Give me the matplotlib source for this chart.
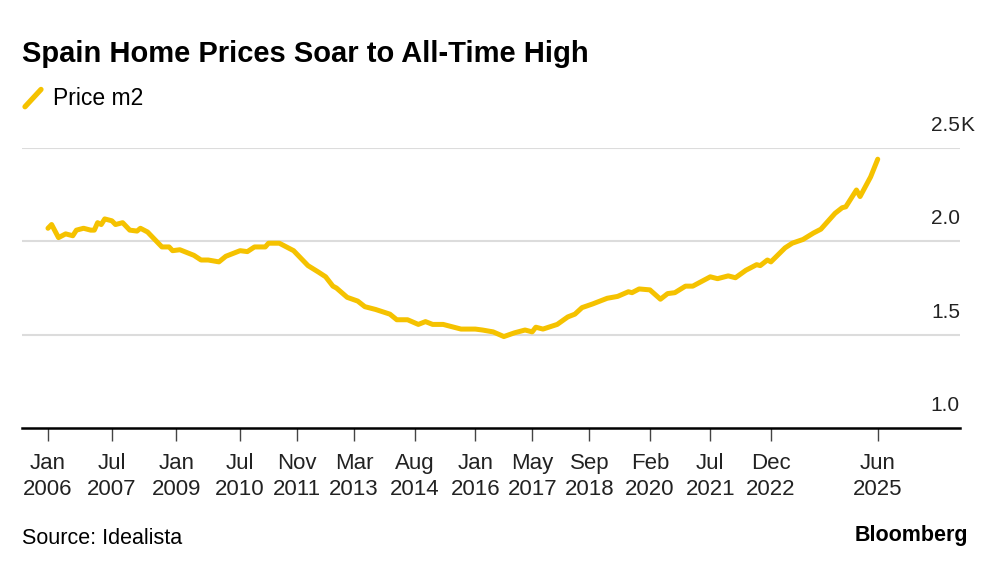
import pandas as pd
import matplotlib
matplotlib.use('Agg')
import matplotlib.pyplot as plt
from matplotlib.lines import Line2D

# price per m2 (euros)
months = ['2006-01', '2006-02', '2006-04', '2006-06', '2006-08', '2006-09', '2006-11',
	'2007-01', '2007-02', '2007-03', '2007-04', '2007-05', '2007-07', '2007-08', '2007-10', '2007-12',
	'2008-02', '2008-03', '2008-05', '2008-08', '2008-09', '2008-11', '2008-12',
	'2009-02', '2009-06', '2009-08', '2009-10',
	'2010-01', '2010-03', '2010-05', '2010-07', '2010-09', '2010-11',
	'2011-02', '2011-03', '2011-06', '2011-08', '2011-10',
	'2012-02', '2012-05', '2012-07', '2012-09', '2012-10',
	'2013-01', '2013-04', '2013-06', '2013-09',
	'2014-01', '2014-03', '2014-06', '2014-09', '2014-11',
	'2015-01', '2015-04', '2015-06', '2015-09',
	'2016-01', '2016-03', '2016-06', '2016-09', '2016-12',
	'2017-03', '2017-05', '2017-06', '2017-08', '2017-12',
	'2018-03', '2018-05', '2018-07', '2018-10',
	'2019-02', '2019-05', '2019-08', '2019-09', '2019-11',
	'2020-02', '2020-05', '2020-07', '2020-09', '2020-12',
	'2021-02', '2021-07', '2021-09', '2021-12',
	'2022-02', '2022-05', '2022-08', '2022-09', '2022-11', '2022-12',
	'2023-04', '2023-06', '2023-09', '2023-12',
	'2024-02', '2024-06', '2024-08', '2024-09', '2024-12',
	'2025-01', '2025-04', '2025-06']
price = [2070, 2090, 2020, 2040, 2030, 2060, 2070,
	2060, 2060, 2100, 2090, 2120, 2110, 2090, 2100, 2060,
	2055, 2070, 2050, 1990, 1970, 1970, 1950,
	1955, 1925, 1900, 1900,
	1890, 1920, 1935, 1950, 1945, 1970,
	1970, 1990, 1990, 1970, 1950,
	1870, 1835, 1810, 1760, 1750,
	1700, 1680, 1650, 1635,
	1610, 1580, 1580, 1555, 1570,
	1555, 1555, 1545, 1530,
	1530, 1525, 1515, 1490, 1510,
	1525, 1515, 1540, 1530, 1555,
	1595, 1610, 1645, 1665,
	1695, 1705, 1730, 1725, 1745,
	1740, 1690, 1720, 1725, 1760,
	1760, 1810, 1800, 1815,
	1805, 1845, 1875, 1870, 1900, 1890,
	1965, 1990, 2010, 2045,
	2065, 2150, 2180, 2185, 2275,
	2240, 2345, 2440]

tick_months = ['2006-01', '2007-07', '2009-01', '2010-07', '2011-11', '2013-03', '2014-08',
	'2016-01', '2017-05', '2018-09', '2020-02', '2021-07', '2022-12', '2025-06']
tick_labels = ['Jan\n2006', 'Jul\n2007', 'Jan\n2009', 'Jul\n2010', 'Nov\n2011', 'Mar\n2013', 'Aug\n2014',
	'Jan\n2016', 'May\n2017', 'Sep\n2018', 'Feb\n2020', 'Jul\n2021', 'Dec\n2022', 'Jun\n2025']
y_ticks = [1000, 1500, 2000, 2500]
y_labels = ['1.0', '1.5', '2.0', '2.5']

YELLOW = '#f5c200'
FONT = 'Liberation Sans'


def main():
	plt.rcParams['font.family'] = [FONT, 'DejaVu Sans']
	fig = plt.figure(figsize=(10, 5.77), dpi=100)
	ax = fig.add_axes([0.022, 0.2582, 0.938, 0.4853])

	xs = pd.to_datetime(months)
	ax.plot(xs, price, color=YELLOW, lw=3.6, solid_joinstyle='round', solid_capstyle='round', clip_on=False, zorder=3)

	ax.set_ylim(1000, 2500)
	ax.set_xlim(pd.Timestamp('2005-05-24'), pd.Timestamp('2027-05-05'))

	# gridlines + labels sitting on top of them
	for v, lab in zip(y_ticks, y_labels):
		if v > 1000:
			ax.axhline(v, color='#dcdcdc', lw=1.5, zorder=1)
		ax.text(1.0, v + 70, lab, transform=ax.get_yaxis_transform(), ha='right', va='bottom',
			fontsize=15, color='#222222')
	ax.text(1.0, 2570, 'K', transform=ax.get_yaxis_transform(), ha='left', va='bottom',
		fontsize=15, color='#222222')

	for s in ['top', 'right', 'left']:
		ax.spines[s].set_visible(False)
	ax.spines['bottom'].set_color('black')
	ax.spines['bottom'].set_linewidth(1.8)
	ax.set_yticks([])

	ax.set_xticks(pd.to_datetime(tick_months))
	ax.set_xticklabels(tick_labels, fontsize=16, color='#222222', linespacing=1.3)
	ax.tick_params(axis='x', length=9, width=1, color='#444444', pad=9)

	fig.text(0.022, 0.8925, 'Spain Home Prices Soar to All-Time High', fontsize=21, fontweight='bold', va='baseline')
	fig.add_artist(Line2D([0.025, 0.041], [0.815, 0.845], color=YELLOW, lw=3.8, solid_capstyle='round'))
	fig.text(0.053, 0.83, 'Price m2', fontsize=16.5, va='center')
	fig.text(0.022, 0.057, 'Source: Idealista', fontsize=15.5, va='baseline')
	fig.text(0.968, 0.062, 'Bloomberg', fontsize=15.5, fontweight='bold', ha='right', va='baseline')

	fig.savefig('out.png', dpi=100, facecolor='white')

if __name__ == "__main__":
	main()
